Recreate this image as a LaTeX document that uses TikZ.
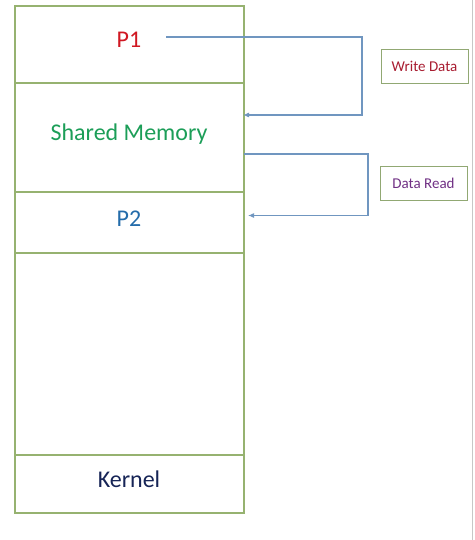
\documentclass[tikz,border=0pt]{standalone}
\usepackage{fontspec}
\setmainfont{Carlito}
\usetikzlibrary{arrows, arrows.meta, positioning, calc}

\definecolor{boxgreen}{RGB}{150,178,112}
\definecolor{flowblue}{RGB}{112,150,192}
\definecolor{pone}{RGB}{208,24,34}
\definecolor{shmgreen}{RGB}{28,158,88}
\definecolor{ptwo}{RGB}{36,108,170}
\definecolor{kern}{RGB}{22,36,86}
\definecolor{wred}{RGB}{168,28,48}
\definecolor{rpurple}{RGB}{112,48,132}

\tikzset{
	memblock/.style={draw=boxgreen, line width=1.3pt, minimum width=229pt, outer sep=0pt, inner sep=0pt},
	biglbl/.style={anchor=base, font=\fontsize{24}{28}\selectfont},
	tagbox/.style={draw=boxgreen!80!gray, line width=0.8pt, minimum width=87pt, minimum height=34pt, font=\fontsize{15}{18}\selectfont},
	flow/.style={draw=flowblue, line width=1.1pt, -{Latex[length=6pt,width=5pt]}}
}

\begin{document}
\begin{tikzpicture}[x=1pt, y=-1pt]
	\useasboundingbox (0,0) rectangle (474,540);
	\draw[black!22, line width=1.5pt] (472.5,0) -- (472.5,540);
	
	% memory layout
	\node[memblock, minimum height=77pt, anchor=north west] (p1) at (15,6) {};
	\node[memblock, minimum height=109pt, below=0pt of p1] (shm) {};
	\node[memblock, minimum height=61pt, below=0pt of shm] (p2) {};
	\node[memblock, minimum height=202pt, below=0pt of p2] (free) {};
	\node[memblock, minimum height=58pt, below=0pt of free] (kernel) {};
	
	\node[biglbl, text=pone] (p1txt) at (129,48) {P1};
	\node[biglbl, text=shmgreen] (shmtxt) at (129,141) {Shared Memory};
	\node[biglbl, text=ptwo] (p2txt) at (129,226) {P2};
	\node[biglbl, text=kern] (kerneltxt) at (129,487) {Kernel};
	
	% labels of the transfers
	\node[tagbox, text=wred] (write) at (424.5,66) {Write Data};
	\node[tagbox, text=rpurple] (read) at (423.5,183) {Data Read};
	
	% transfers
	\coordinate (w0) at (166,37);
	\draw[flow] (w0) -- (362,37) |- ([yshift=22.5pt, xshift=-1pt]shm.east);
	\draw[flow] ([yshift=-16.5pt]shm.east) -- (368,154) |- ([xshift=4pt, yshift=7pt]p2.east);
\end{tikzpicture}
\end{document}
